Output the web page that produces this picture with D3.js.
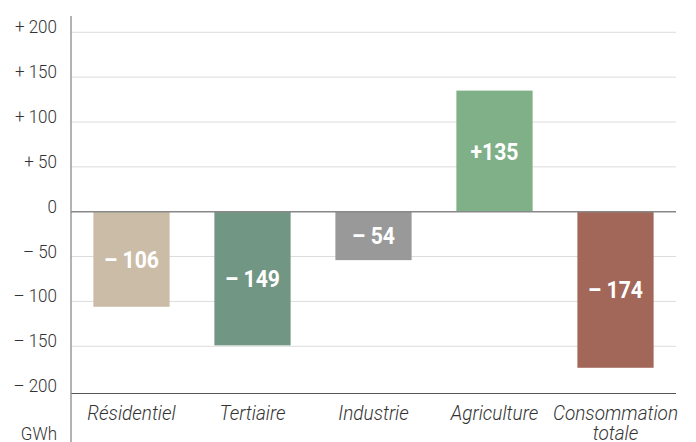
<!DOCTYPE html>
<html>
<head>
<meta charset="utf-8">
<script src="https://cdn.jsdelivr.net/npm/d3@7"></script>
<style>
  html, body { margin: 0; padding: 0; background: #fff; }
  svg { display: block; }
  text { font-family: Roboto, "Noto Sans", sans-serif; }
</style>
</head>
<body>
<svg id="chart" width="696" height="442"></svg>
<script>
// Variation de la consommation d'énergie par secteur (GWh)
const categories = ["Résidentiel", "Tertiaire", "Industrie", "Agriculture", "Consommation totale"];
const categoryLines = [["Résidentiel"], ["Tertiaire"], ["Industrie"], ["Agriculture"], ["Consommation", "totale"]];
const values = [-106, -149, -54, 135, -174];
const colors = ["#cbbca8", "#729684", "#999999", "#80b088", "#a26759"];
const tickValues = [200, 150, 100, 50, 0, -50, -100, -150, -200];
const tickLabels = ["+ 200", "+ 150", "+ 100", "+ 50", "0", "– 50", "– 100", "– 150", "– 200"];
const unitLabel = "GWh";

const svg = d3.select("#chart");
const left = 71, right = 676;

const x = d3.scaleBand()
  .domain(categories)
  .range([left, right])
  .paddingInner(0.37)
  .paddingOuter(0.185);

const y = d3.scaleLinear()
  .domain([-200, 200])
  .range([391.1, 32.3]);

const fmt = v => (v > 0 ? "+" : "– ") + Math.abs(v);

// narrow text helper (horizontal squeeze for a condensed look)
function ntext(g, px, py, str, k) {
  return g.append("text")
    .attr("transform", `translate(${px},${py}) scale(${k},1)`)
    .text(str);
}

// horizontal grid
svg.append("g")
  .selectAll("line")
  .data(tickValues.filter(v => v !== 0 && v !== -200))
  .join("line")
  .attr("x1", left).attr("x2", right)
  .attr("y1", d => y(d)).attr("y2", d => y(d))
  .attr("stroke", "#dcdcdc").attr("stroke-width", 1);

// bars
svg.append("g")
  .selectAll("rect")
  .data(values)
  .join("rect")
  .attr("x", (d, i) => x(categories[i]))
  .attr("width", x.bandwidth())
  .attr("y", d => y(Math.max(0, d)))
  .attr("height", d => Math.abs(y(d) - y(0)))
  .attr("fill", (d, i) => colors[i]);

// zero line
svg.append("line")
  .attr("x1", left).attr("x2", right)
  .attr("y1", y(0)).attr("y2", y(0))
  .attr("stroke", "#888").attr("stroke-width", 1.5);

// bottom baseline
svg.append("line")
  .attr("x1", left).attr("x2", right)
  .attr("y1", y(-202.7)).attr("y2", y(-202.7))
  .attr("stroke", "#555").attr("stroke-width", 1.2);

// vertical axis
svg.append("line")
  .attr("x1", left).attr("x2", left)
  .attr("y1", 16).attr("y2", 442)
  .attr("stroke", "#8a8a8a").attr("stroke-width", 1.3);

// y tick labels
const yl = svg.append("g")
  .attr("fill", "#333")
  .attr("font-size", 18.5)
  .attr("font-weight", 300)
  .attr("text-anchor", "end");
tickValues.forEach((v, i) => {
  ntext(yl, 57, y(v) + 1, tickLabels[i], 0.92);
});
ntext(yl, 57, 439.5, unitLabel, 0.92);

// value labels inside bars
const vl = svg.append("g")
  .attr("fill", "#fff")
  .attr("font-size", 23.5)
  .attr("font-weight", 700)
  .attr("text-anchor", "middle");
values.forEach((v, i) => {
  const cx = x(categories[i]) + x.bandwidth() / 2;
  const cy = (y(v) + y(0)) / 2 + 8.5;
  ntext(vl, cx, cy, fmt(v), 0.9);
});

// category labels
const cl = svg.append("g")
  .attr("fill", "#333")
  .attr("font-size", 20)
  .attr("font-weight", 300)
  .attr("font-style", "italic")
  .attr("text-anchor", "middle");
categoryLines.forEach((lines, i) => {
  const cx = x(categories[i]) + x.bandwidth() / 2;
  lines.forEach((ln, j) => ntext(cl, cx, 420 + j * 19.5, ln, 0.95));
});
</script>
</body>
</html>
